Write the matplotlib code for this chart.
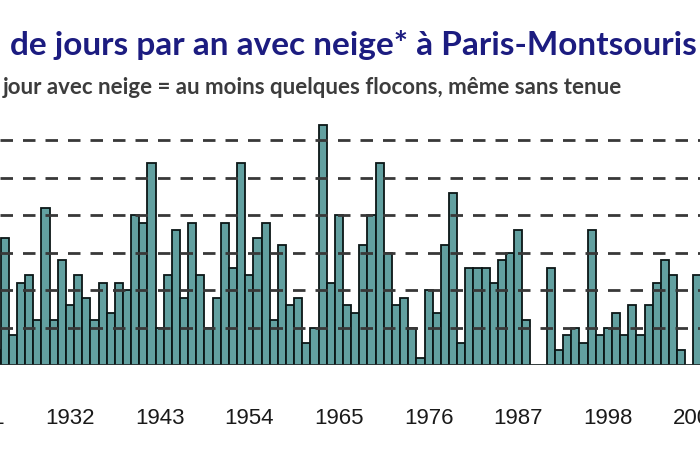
import matplotlib
matplotlib.use("Agg")
import matplotlib.pyplot as plt
from matplotlib.transforms import blended_transform_factory

annees = list(range(1923, 2010))
jours = [2, 17, 4, 11, 12, 6, 21, 6, 14, 8,
         12, 9, 6, 11, 7, 11, 10, 20, 19, 27,
         5, 12, 18, 9, 19, 12, 5, 9, 19, 13,
         27, 12, 17, 19, 6, 16, 8, 9, 3, 5,
         32, 11, 20, 8, 7, 16, 20, 27, 15, 8,
         9, 5, 1, 10, 7, 16, 23, 3, 13, 13,
         13, 11, 14, 15, 18, 6, 0, 0, 13, 2,
         4, 5, 3, 18, 4, 5, 7, 4, 8, 4,
         8, 11, 14, 12, 2, 0, 12]
annees_labels = [1921, 1932, 1943, 1954, 1965, 1976, 1987, 1998, 2009]
niveaux = [5, 10, 15, 20, 25, 30]

titre = "de jours par an avec neige* à Paris-Montsouris"
sous_titre = "jour avec neige = au moins quelques flocons, même sans tenue"

fig = plt.figure(figsize=(7, 4.5), dpi=100)
ax = fig.add_axes([0, 85 / 450, 1, 250 / 450])

ax.bar(annees, jours, width=1.0, color="#62a0a0", edgecolor="#0b1616",
       linewidth=1.3, zorder=2)

for n in niveaux:
    ax.axhline(n, color="#383838", linewidth=2.0, dashes=(4.5, 3.6), zorder=3)
ax.axhline(0, color="#9a9a9a", linewidth=1.0, zorder=4)

ax.set_xlim(1923.41, 2009.3)
ax.set_ylim(0, 33.4)
ax.set_xticks([])
ax.set_yticks([])
for s in ax.spines.values():
    s.set_visible(False)

# etiquettes des annees (la premiere et la derniere sont coupees par le bord, comme sur l'original)
trans = blended_transform_factory(ax.transData, fig.transFigure)
for a in annees_labels:
    ax.text(a, 1 - 418 / 450, str(a), transform=trans, ha="center", va="center",
            fontsize=16, color="#1a1a1a", clip_on=False,
            family=["Liberation Sans", "DejaVu Sans"])

fig.text(10 / 700, 1 - 45 / 450, titre, ha="left", va="center", fontsize=24,
         fontweight="bold", color="#1c1c80", family=["Lato", "DejaVu Sans"])
fig.text(3 / 700, 1 - 87 / 450, sous_titre, ha="left", va="center", fontsize=16,
         fontweight="bold", color="#3c3c3c", family=["Lato", "DejaVu Sans"])

fig.savefig("out.png", dpi=100)
